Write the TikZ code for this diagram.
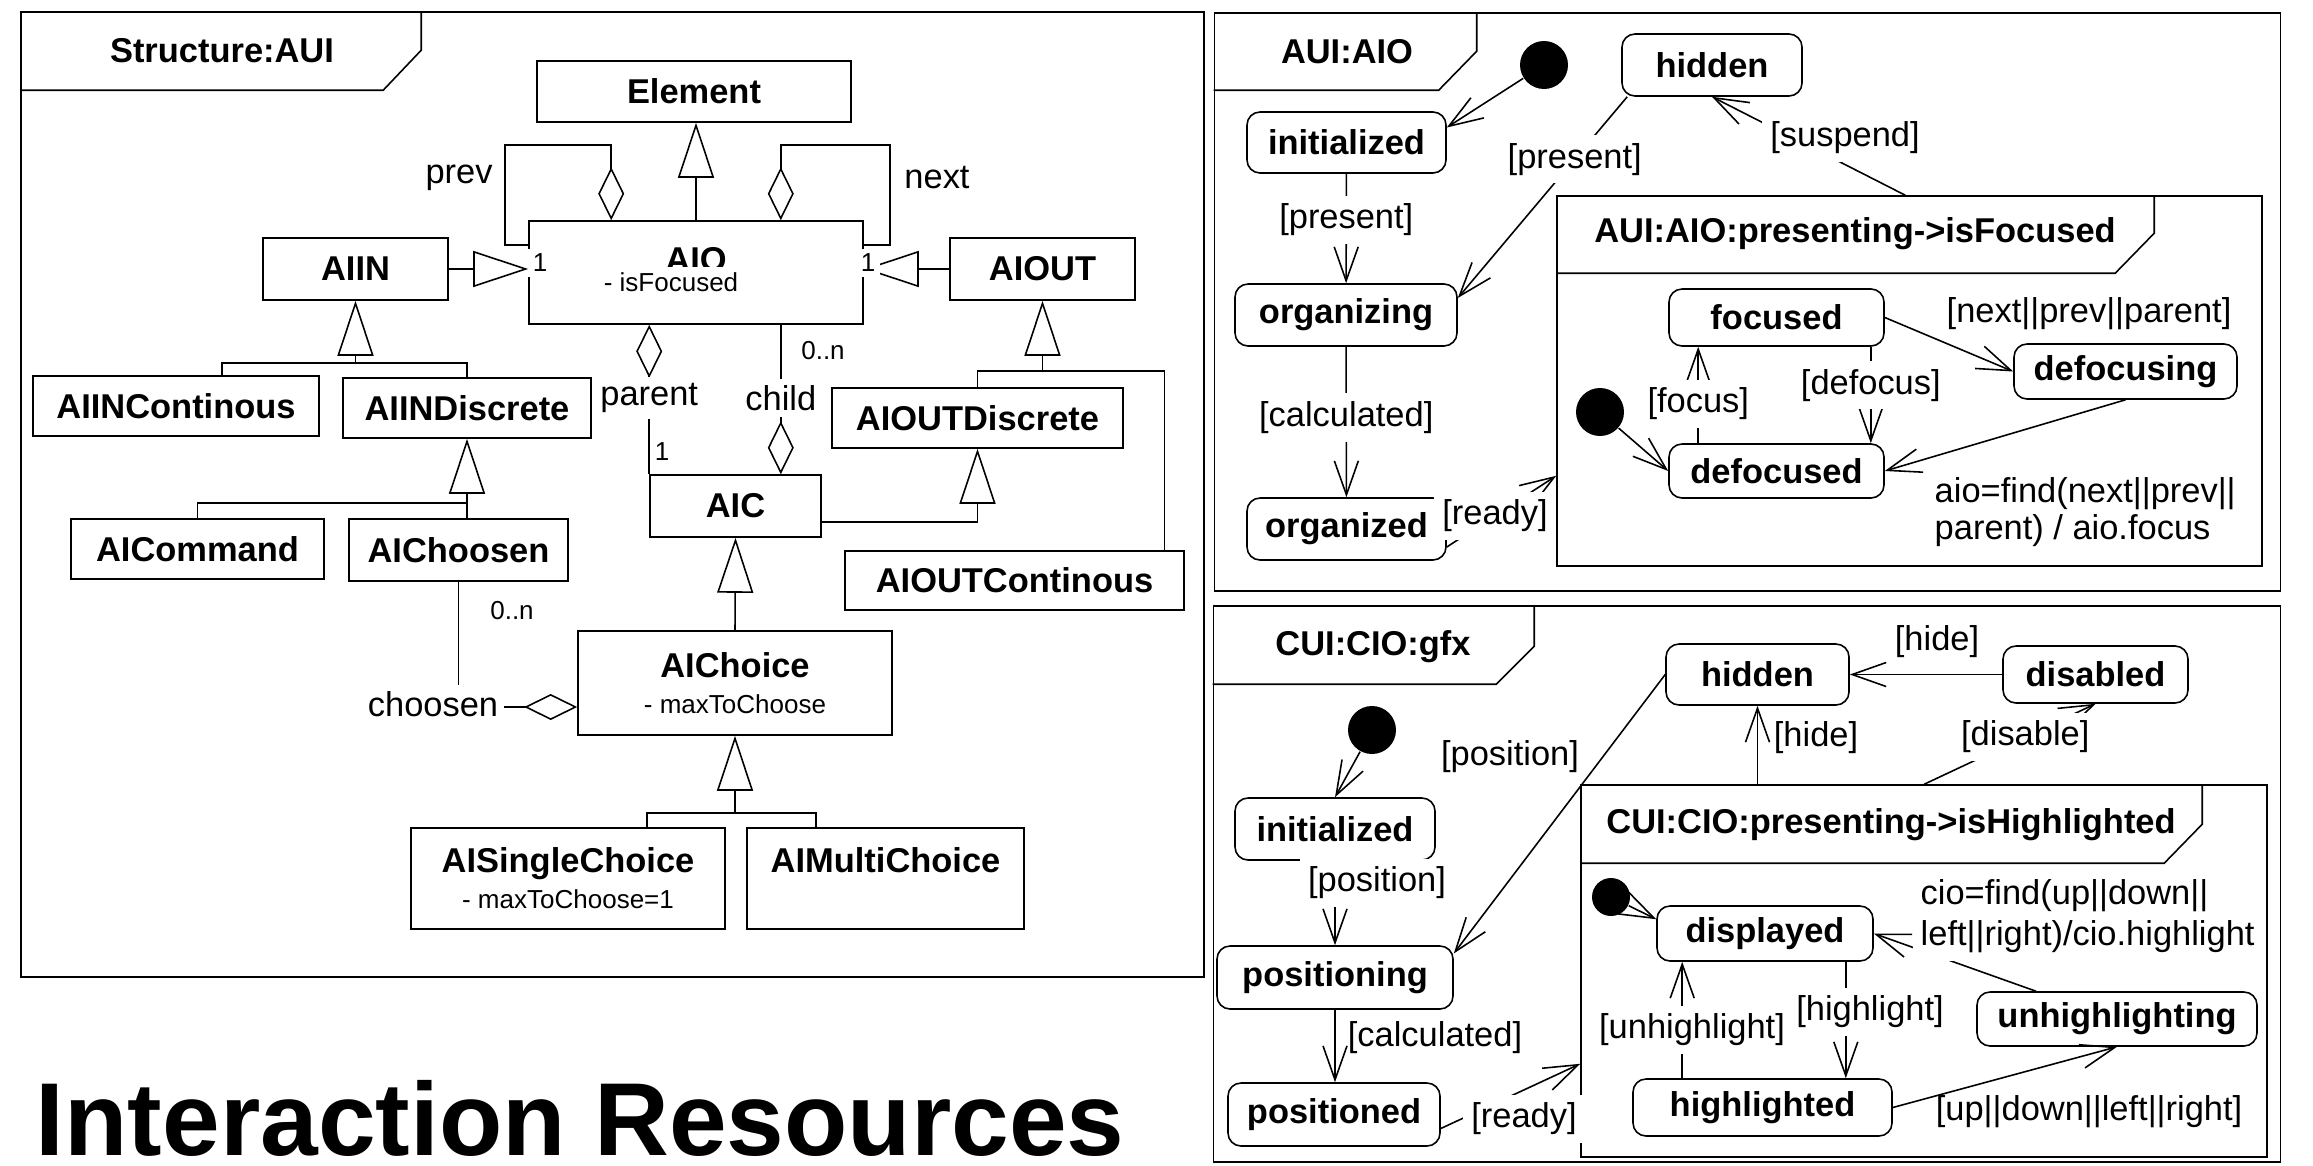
\documentclass[tikz,border=0pt]{standalone}
\usepackage{fontspec}
\setmainfont{Liberation Sans}
\usepackage{tikz}
\usetikzlibrary{calc,positioning,arrows.meta}
\definecolor{ink}{RGB}{0,0,0}
\newcommand{\clsfont}{\fontsize{9.8}{11.8}\selectfont\bfseries}
\newcommand{\lblfont}{\fontsize{9.8}{11.8}\selectfont}
\newcommand{\multfont}{\fontsize{7.4}{8.8}\selectfont}
\newcommand{\attrtxt}[1]{{\multfont\mdseries #1}}
\tikzset{
  umlline/.style={line width=0.45pt, draw=ink},
  cls/.style={umlline, rectangle, inner sep=0pt, font=\clsfont, align=center},
  stbox/.style={umlline, rectangle, rounded corners=1.3mm, inner sep=0pt, font=\clsfont},
  initdot/.style={circle, fill=ink, inner sep=0pt, minimum size=4.8mm},
  panel/.style={umlline, rectangle, inner sep=0pt},
  tabtitle/.style={font=\clsfont, inner sep=0pt},
  guard/.style={font=\lblfont, fill=white, inner sep=0.8mm},
  note/.style={font=\lblfont, inner sep=0.8mm},
  role/.style={font=\lblfont, fill=white, inner sep=0.6mm},
  mult/.style={font=\multfont, fill=white, inner sep=0.5mm},
  gen/.style={umlline, -{Triangle[open, length=5.5mm, width=3.6mm]}},
  aggend/.style={umlline, -{Diamond[open, length=5.3mm, width=2.6mm]}},
  aggstart/.style={umlline, {Diamond[open, length=5.3mm, width=2.6mm]}-},
  trans/.style={umlline, -{Straight Barb[length=3.4mm, width=2.4mm]}},
}

\begin{document}
\begin{tikzpicture}[x=0.1mm, y=-0.1mm]
\useasboundingbox (0,0) rectangle (2313,1165);

% Structure:AUI
\node[panel, minimum width=118.3mm, minimum height=96.5mm] (pstruct) at (612.5,494.5) {};
\draw[umlline] ($(pstruct.north west)+(0,79)$) -- ++(363,0) -- ++(38,-40) -- ($(pstruct.north west)+(401,0)$);
\node[tabtitle] (tstruct) at (222,51) {Structure:AUI};

\node[cls, minimum width=31.4mm, minimum height=6.1mm] (element) at (694,91.5) {Element};
\node[cls, minimum width=33.4mm, minimum height=10.3mm, text depth=2.6mm] (aio) at (696,272.5) {AIO};
\node[cls, minimum width=18.5mm, minimum height=6.2mm] (aiin) at (355.5,269) {AIIN};
\node[cls, minimum width=18.5mm, minimum height=6.2mm] (aiout) at (1042.5,269) {AIOUT};
\node[cls, minimum width=28.6mm, minimum height=6mm] (aiincont) at (176,406) {AIINContinous};
\node[cls, minimum width=24.8mm, minimum height=6mm] (aiindisc) at (467,408) {AIINDiscrete};
\node[cls, minimum width=25.3mm, minimum height=6mm] (aicommand) at (197.5,549) {AICommand};
\node[cls, minimum width=21.9mm, minimum height=6.2mm] (aichoosen) at (458.5,550) {AIChoosen};
\node[cls, minimum width=17.1mm, minimum height=6.2mm] (aic) at (735.5,506) {AIC};
\node[cls, minimum width=29.1mm, minimum height=6mm] (aioutdisc) at (977.5,418) {AIOUTDiscrete};
\node[cls, minimum width=33.9mm, minimum height=5.9mm] (aioutcont) at (1014.5,580.5) {AIOUTContinous};
\node[cls, minimum width=31.4mm, minimum height=10.4mm] (aichoice) at (735,683) {AIChoice\\[-1.5pt]\attrtxt{- maxToChoose}};
\node[cls, minimum width=31.4mm, minimum height=10.1mm] (aisingle) at (568,878.5) {AISingleChoice\\[-1.5pt]\attrtxt{- maxToChoose=1}};
\node[cls, minimum width=27.7mm, minimum height=10.1mm] (aimulti) at (885.5,878.5) {AIMultiChoice\\[-1.5pt]\attrtxt{\phantom{x}}};

\draw[gen] (aio.north) -- (aio.north |- element.south);
\draw[gen] (aiin.east) -- (aiin.east -| aio.west);
\draw[gen] (aiout.west) -- (aiout.west -| aio.east);

\coordinate (jin) at ($(aiin.south)+(0,62)$);
\draw[umlline] ($(aiincont.north)+(46,0)$) |- (jin) -| (aiindisc.north);
\draw[gen] (jin) -- (aiin.south);
\coordinate (jdisc) at ($(aiindisc.south)+(0,64)$);
\draw[umlline] (aicommand.north) |- (jdisc);
\draw[gen] (aichoosen.north -| jdisc) -- (aiindisc.south);
\coordinate (jout) at ($(aiout.south)+(0,70)$);
\draw[umlline] (aioutdisc.north) |- (jout) -| ($(aioutcont.north)+(150,0)$);
\draw[gen] (jout) -- (aiout.south);
\draw[gen] ($(aic.east)+(0,16)$) -| (aioutdisc.south);
\draw[gen] (aichoice.north) -- (aic.south);
\coordinate (jchoice) at ($(aichoice.south)+(0,77)$);
\draw[umlline] ($(aisingle.north)+(79,0)$) |- (jchoice) -| ($(aimulti.north)+(-69.5,0)$);
\draw[gen] (jchoice) -- (aichoice.south);

\draw[aggend] ($(aio.north west)+(0,25)$) -- ++(-23,0) -- ++(0,-100) -| ($(aio.north west)+(83,0)$);
\draw[aggend] ($(aio.north east)+(0,25)$) -- ++(26,0) -- ++(0,-100) -| ($(aio.north east)+(-83,0)$);
\node[role] (lprev) at (459,178) {prev};
\node[role] (lnext) at (937,178) {next};
\draw[aggstart] (aic.north west |- aio.south) -- node[role, pos=0.49] (lparent) {parent} (aic.north west);
\coordinate (cx) at ($(aic.north east)+(-41,0)$);
\draw[aggend] (cx |- aio.south) -- node[role, pos=0.49] (lchild) {child} (cx);
\draw[aggend] (aichoosen.south) |- ($(aichoice.west)+(0,24)$);
\node[role] (lchoosen) at (433,704) {choosen};

\node[mult, anchor=base] (aioattr) at (671,291) {- isFocused};
\node[mult] (m1l) at (540,263) {1};
\node[mult] (m1r) at (868,263) {1};
\node[mult] (m0n) at (823,351) {0..n};
\node[mult] (m1c) at (662,452) {1};
\node[mult] (m0c) at (512,611) {0..n};

\node[anchor=base west, inner sep=0pt, font=\fontsize{29.5}{35}\selectfont\bfseries] (title) at (35,1155) {Interaction Resources};

% AUI:AIO
\node[panel, minimum width=106.6mm, minimum height=57.8mm] (paio) at (1747.5,302) {};
\draw[umlline] ($(paio.north west)+(0,78)$) -- ++(225,0) -- ++(38,-39) -- ($(paio.north west)+(263,0)$);
\node[tabtitle] (taio) at (1347,52) {AUI:AIO};

\node[initdot] (aiostart) at (1544,65) {};
\node[stbox, minimum width=19.9mm, minimum height=6.1mm] (ainit) at (1346.5,142.5) {initialized};
\node[stbox, minimum width=18mm, minimum height=6.2mm] (ahidden) at (1712,65) {hidden};
\node[stbox, minimum width=22.2mm, minimum height=6.2mm] (aorganizing) at (1346,315) {organizing};
\node[stbox, minimum width=19.9mm, minimum height=6.2mm] (aorganized) at (1346.5,529) {organized};

\node[panel, minimum width=70.5mm, minimum height=37mm] (afocus) at (1909.5,381) {};
\draw[umlline] ($(afocus.north west)+(0,78)$) -- ++(559,0) -- ++(39,-40) -- ($(afocus.north west)+(598,0)$);
\node[tabtitle] (tfocus) at (1855,234) {AUI:AIO:presenting->isFocused};

\node[initdot] (focusstart) at (1600,412) {};
\node[stbox, minimum width=21.5mm, minimum height=5.7mm] (focused) at (1776.5,317.5) {focused};
\node[stbox, minimum width=22.3mm, minimum height=5.5mm] (defocusing) at (2125.5,371.5) {defocusing};
\node[stbox, minimum width=21.5mm, minimum height=5.4mm] (defocused) at (1776.5,471) {defocused};

\draw[trans] (aiostart) -- ($(ainit.east)+(0,-15)$);
\draw[trans] (ainit) -- node[guard, pos=0.42] (gpresent1) {[present]} (aorganizing);
\draw[trans] ($(ahidden.south west)+(6,0)$) -- node[guard, pos=0.31] (gpresent2) {[present]} ($(aorganizing.east)+(0,-17)$);
\draw[trans] ($(afocus.north west)+(349,0)$) -- (ahidden.south);
\node[guard] (gsuspend) at (1845,138) {[suspend]};
\draw[trans] (aorganizing) -- node[guard, pos=0.47] (gcalc1) {[calculated]} (aorganized);
\draw[trans] ($(aorganized.east)+(0,18)$) -- node[guard, pos=0.44] (gready1) {[ready]} ($(afocus.south west)+(0,-91)$);

\draw[trans] (focused.east) -- (defocusing.west);
\node[note] (gnext) at (2089,314) {[next||prev||parent]};
\draw[trans] (defocusing.south) -- (defocused.east);
\node[note, anchor=west, align=left] (gfind) at (1926,512) {aio=find(next||prev||\\[-1.5pt]parent) / aio.focus};
\draw[trans] (focusstart) -- (defocused.west);
\draw[trans] ($(defocused.north west)+(30,0)$) -- node[guard, pos=0.41] (gfocus) {[focus]} ($(focused.south west)+(30,0)$);
\draw[trans] ($(focused.south east)+(-14,0)$) -- node[guard, pos=0.4] (gdefocus) {[defocus]} ($(defocused.north east)+(-14,0)$);

% CUI:CIO:gfx
\node[panel, minimum width=106.7mm, minimum height=55.6mm] (pgfx) at (1747,884) {};
\draw[umlline] ($(pgfx.north west)+(0,79)$) -- ++(283.5,0) -- ++(38,-38) -- ($(pgfx.north west)+(321.5,0)$);
\node[tabtitle] (tgfx) at (1373,647) {CUI:CIO:gfx};

\node[initdot] (gfxstart) at (1372,730) {};
\node[stbox, minimum width=20mm, minimum height=6.2mm] (ginit) at (1335,829) {initialized};
\node[stbox, minimum width=23.6mm, minimum height=6.3mm] (gpositioning) at (1335,977.5) {positioning};
\node[stbox, minimum width=21.2mm, minimum height=6.3mm] (gpositioned) at (1334,1114.5) {positioned};
\node[stbox, minimum width=18.3mm, minimum height=6.1mm] (ghidden) at (1757.5,674.5) {hidden};
\node[stbox, minimum width=18.5mm, minimum height=5.7mm] (gdisabled) at (2095.5,674.5) {disabled};

\node[panel, minimum width=68.6mm, minimum height=37.2mm] (ghigh) at (1924,971) {};
\draw[umlline] ($(ghigh.north west)+(0,79)$) -- ++(584,0) -- ++(38,-39) -- ($(ghigh.north west)+(622,0)$);
\node[tabtitle] (thigh) at (1891,825) {CUI:CIO:presenting->isHighlighted};

\node[initdot, minimum size=3.8mm] (highstart) at (1611,897) {};
\node[stbox, minimum width=21.6mm, minimum height=5.5mm] (gdisplayed) at (1765,933.5) {displayed};
\node[stbox, minimum width=25.9mm, minimum height=5.7mm] (ghighlighted) at (1762.5,1107.5) {highlighted};
\node[stbox, minimum width=28mm, minimum height=5.4mm] (gunhigh) at (2117,1019) {unhighlighting};

\draw[trans] (gfxstart) -- (ginit.north);
\draw[trans] (ginit.south) -- (ginit.south |- gpositioning.north);
\node[guard] (gpos1) at (1377,883) {[position]};
\draw[trans] (ghidden.west) -- ($(gpositioning.east)+(0,-24)$);
\node[note] (gpos2) at (1510,757) {[position]};
\draw[trans] (gpositioning.south) -- (gpositioning.south |- gpositioned.north);
\node[note] (gcalc2) at (1435,1038) {[calculated]};
\draw[trans] ($(gpositioned.east)+(0,14)$) -- ($(ghigh.south west)+(0,-94)$);
\node[guard] (gready2) at (1524,1119) {[ready]};
\draw[trans] (ghigh.north -| ghidden.south) -- (ghidden.south);
\node[note] (ghide1) at (1816,738) {[hide]};
\draw[trans] ($(ghigh.north west)+(344,0)$) -- node[guard, pos=0.59] (gdisable) {[disable]} (gdisabled.south);
\draw[trans] (gdisabled.west) -- (ghidden.east);
\node[note] (ghide2) at (1937,642) {[hide]};

\draw[trans] (highstart) -- ($(gdisplayed.north west)+(0,14)$);
\coordinate (hx) at ($(gdisplayed.south east)+(-28,0)$);
\draw[trans] (hx) -- (hx |- ghighlighted.north);
\node[guard] (ghl) at (1870,1012) {[highlight]};
\coordinate (ux) at ($(gdisplayed.south west)+(26,0)$);
\draw[trans] (ux |- ghighlighted.north) -- (ux);
\node[guard] (gunhl) at (1692,1030) {[unhighlight]};
\draw[trans] (ghighlighted.east) -- (gunhigh.south);
\node[note] (gudlr) at (2089,1112) {[up||down||left||right]};
\draw[trans] ($(gunhigh.north)+(-81,0)$) -- (gdisplayed.east);
\node[guard, anchor=west, align=left] (gcio) at (1912,916) {cio=find(up||down||\\left||right)/cio.highlight};
\end{tikzpicture}
\end{document}
